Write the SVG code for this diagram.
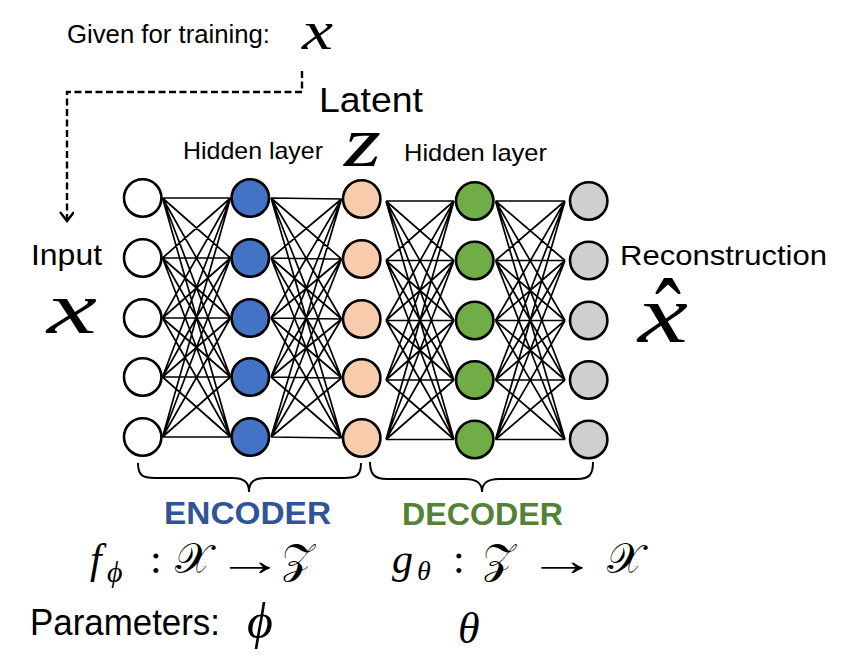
<svg xmlns="http://www.w3.org/2000/svg" width="847" height="658" viewBox="0 0 847 658">
<style>
.sans{font-family:"Liberation Sans",Arial,sans-serif;fill:#000}
.math{font-family:"Liberation Serif","DejaVu Serif",serif;font-style:italic;fill:#000}
.mathr{font-family:"Liberation Serif","DejaVu Serif",serif;fill:#000}
.cal{font-family:"DejaVu Serif","DejaVu Sans","Liberation Serif",serif;fill:#000}
.n{stroke:#000;stroke-width:2.6}
.in{fill:#fff}.hb{fill:#4472C4}.lt{fill:#F8CBAD}.hg{fill:#70AD47}.out{fill:#D0CECE}
.ln{fill:none;stroke:#000;stroke-width:1.7}
.br{fill:none;stroke:#000;stroke-width:2}
</style>
<defs>
<marker id="arr" markerWidth="16" markerHeight="16" refX="10" refY="7" orient="auto" markerUnits="userSpaceOnUse">
<path d="M1,0 L10,7 L1,14" fill="none" stroke="#000" stroke-width="2.4" stroke-dasharray="none"/>
</marker>
</defs>
<rect width="847" height="658" fill="#fff"/>

<g id="connectors">
<path class="ln" d="M162.5 198L230.5 198M162.5 198L230.5 258M162.5 198L230.5 318M162.5 198L230.5 377M162.5 198L230.5 437
M162.5 258L230.5 198M162.5 258L230.5 258M162.5 258L230.5 318M162.5 258L230.5 377M162.5 258L230.5 437
M162.5 318L230.5 198M162.5 318L230.5 258M162.5 318L230.5 318M162.5 318L230.5 377M162.5 318L230.5 437
M162.5 377L230.5 198M162.5 377L230.5 258M162.5 377L230.5 318M162.5 377L230.5 377M162.5 377L230.5 437
M162.5 437L230.5 198M162.5 437L230.5 258M162.5 437L230.5 318M162.5 437L230.5 377M162.5 437L230.5 437"/>
<path class="ln" d="M271 198L341.5 199M271 198L341.5 259M271 198L341.5 319M271 198L341.5 378M271 198L341.5 438
M271 258L341.5 199M271 258L341.5 259M271 258L341.5 319M271 258L341.5 378M271 258L341.5 438
M271 318L341.5 199M271 318L341.5 259M271 318L341.5 319M271 318L341.5 378M271 318L341.5 438
M271 377L341.5 199M271 377L341.5 259M271 377L341.5 319M271 377L341.5 378M271 377L341.5 438
M271 437L341.5 199M271 437L341.5 259M271 437L341.5 319M271 437L341.5 378M271 437L341.5 438"/>
<path class="ln" d="M386 201L454 201M386 201L454 260.5M386 201L454 320.5M386 201L454 380M386 201L454 439.5
M386 260.5L454 201M386 260.5L454 260.5M386 260.5L454 320.5M386 260.5L454 380M386 260.5L454 439.5
M386 320.5L454 201M386 320.5L454 260.5M386 320.5L454 320.5M386 320.5L454 380M386 320.5L454 439.5
M386 380L454 201M386 380L454 260.5M386 380L454 320.5M386 380L454 380M386 380L454 439.5
M386 439.5L454 201M386 439.5L454 260.5M386 439.5L454 320.5M386 439.5L454 380M386 439.5L454 439.5"/>
<path class="ln" d="M495.5 201L565 201M495.5 201L565 260.5M495.5 201L565 320.5M495.5 201L565 380M495.5 201L565 439.5
M495.5 260.5L565 201M495.5 260.5L565 260.5M495.5 260.5L565 320.5M495.5 260.5L565 380M495.5 260.5L565 439.5
M495.5 320.5L565 201M495.5 320.5L565 260.5M495.5 320.5L565 320.5M495.5 320.5L565 380M495.5 320.5L565 439.5
M495.5 380L565 201M495.5 380L565 260.5M495.5 380L565 320.5M495.5 380L565 380M495.5 380L565 439.5
M495.5 439.5L565 201M495.5 439.5L565 260.5M495.5 439.5L565 320.5M495.5 439.5L565 380M495.5 439.5L565 439.5"/>
<path d="M302 71L302 92L67 92L67 221" fill="none" stroke="#000" stroke-width="2.4" stroke-dasharray="7 3.5" marker-end="url(#arr)"/>
</g>

<g id="input-layer">
<g id="in1"><circle class="n in" cx="142.7" cy="198" r="18.7"/></g>
<g id="in2"><circle class="n in" cx="142.7" cy="258" r="18.7"/></g>
<g id="in3"><circle class="n in" cx="142.7" cy="318" r="18.7"/></g>
<g id="in4"><circle class="n in" cx="142.7" cy="377" r="18.7"/></g>
<g id="in5"><circle class="n in" cx="142.7" cy="437" r="18.7"/></g>
</g>
<g id="encoder-hidden">
<g id="eh1"><circle class="n hb" cx="250.3" cy="198" r="18.7"/></g>
<g id="eh2"><circle class="n hb" cx="250.3" cy="258" r="18.7"/></g>
<g id="eh3"><circle class="n hb" cx="250.3" cy="318" r="18.7"/></g>
<g id="eh4"><circle class="n hb" cx="250.3" cy="377" r="18.7"/></g>
<g id="eh5"><circle class="n hb" cx="250.3" cy="437" r="18.7"/></g>
</g>
<g id="latent">
<g id="z1"><circle class="n lt" cx="361.7" cy="199" r="18.7"/></g>
<g id="z2"><circle class="n lt" cx="361.7" cy="259" r="18.7"/></g>
<g id="z3"><circle class="n lt" cx="361.7" cy="319" r="18.7"/></g>
<g id="z4"><circle class="n lt" cx="361.7" cy="378" r="18.7"/></g>
<g id="z5"><circle class="n lt" cx="361.7" cy="438" r="18.7"/></g>
</g>
<g id="decoder-hidden">
<g id="dh1"><circle class="n hg" cx="474.7" cy="201" r="18.7"/></g>
<g id="dh2"><circle class="n hg" cx="474.7" cy="260.5" r="18.7"/></g>
<g id="dh3"><circle class="n hg" cx="474.7" cy="320.5" r="18.7"/></g>
<g id="dh4"><circle class="n hg" cx="474.7" cy="380" r="18.7"/></g>
<g id="dh5"><circle class="n hg" cx="474.7" cy="439.5" r="18.7"/></g>
</g>
<g id="output-layer">
<g id="out1"><circle class="n out" cx="588.7" cy="201" r="18.7"/></g>
<g id="out2"><circle class="n out" cx="588.7" cy="260.5" r="18.7"/></g>
<g id="out3"><circle class="n out" cx="588.7" cy="320.5" r="18.7"/></g>
<g id="out4"><circle class="n out" cx="588.7" cy="380" r="18.7"/></g>
<g id="out5"><circle class="n out" cx="588.7" cy="439.5" r="18.7"/></g>
</g>

<g id="braces">
<path class="br" d="M138 463C138 475 142 478 155 478L232 478C244 478 249 482 249 492C249 482 254 478 266 478L344 478C357 478 361 475 361 463"/>
<path class="br" d="M370 462C370 474 374 479 387 479L465 479C477 479 482 483 482 492C482 483 487 479 499 479L577 479C590 479 593 474 593 462"/>
</g>

<g id="labels">
<text class="sans" x="67" y="43" font-size="25.5" textLength="203" lengthAdjust="spacingAndGlyphs">Given for training:</text>
<text class="math" x="302" y="49" font-size="54" textLength="31" lengthAdjust="spacingAndGlyphs">x</text>
<text class="sans" x="319" y="112" font-size="35.5" textLength="104" lengthAdjust="spacingAndGlyphs">Latent</text>
<text class="sans" x="183" y="159" font-size="24" textLength="140" lengthAdjust="spacingAndGlyphs">Hidden layer</text>
<text class="math" x="344" y="166" font-size="72" textLength="37" lengthAdjust="spacingAndGlyphs">z</text>
<text class="sans" x="404" y="161" font-size="24" textLength="143" lengthAdjust="spacingAndGlyphs">Hidden layer</text>
<text class="sans" x="31" y="265" font-size="29" textLength="71" lengthAdjust="spacingAndGlyphs">Input</text>
<text class="math" x="47" y="333" font-size="74" textLength="50" lengthAdjust="spacingAndGlyphs">x</text>
<text class="sans" x="620" y="265" font-size="28" textLength="207" lengthAdjust="spacingAndGlyphs">Reconstruction</text>
<g id="xhat">
<text class="math" x="638" y="342" font-size="82" textLength="50" lengthAdjust="spacingAndGlyphs">x</text>
<text class="mathr" x="655" y="352" font-size="105" textLength="26" lengthAdjust="spacingAndGlyphs">ˆ</text>
</g>
<text class="sans" x="164" y="524" font-size="32" font-weight="bold" style="fill:#2F5597" textLength="167" lengthAdjust="spacingAndGlyphs">ENCODER</text>
<text class="sans" x="402" y="525" font-size="32" font-weight="bold" style="fill:#548235" textLength="161" lengthAdjust="spacingAndGlyphs">DECODER</text>
<g id="enc-map">
<text class="math" x="90" y="573" font-size="42">f</text>
<text class="math" x="107" y="582" font-size="30">ϕ</text>
<text class="mathr" x="150" y="573" font-size="42">:</text>
<text class="cal" x="175" y="573" font-size="42">𝒳</text>
<text class="mathr" transform="translate(216,575) scale(1.55,1)" font-size="44">→</text>
<text class="cal" x="282" y="573" font-size="42">𝒵</text>
</g>
<g id="dec-map">
<text class="math" x="392" y="573" font-size="42">g</text>
<text class="math" x="417" y="580" font-size="28">θ</text>
<text class="mathr" x="453" y="573" font-size="42">:</text>
<text class="cal" x="483" y="573" font-size="42">𝒵</text>
<text class="mathr" transform="translate(527,575) scale(1.6,1)" font-size="44">→</text>
<text class="cal" x="607" y="573" font-size="42">𝒳</text>
</g>
<text class="sans" x="30" y="635" font-size="36" textLength="190" lengthAdjust="spacingAndGlyphs">Parameters:</text>
<text class="math" x="247" y="638" font-size="50">ϕ</text>
<text class="math" x="458" y="643" font-size="44">θ</text>
</g>
</svg>
